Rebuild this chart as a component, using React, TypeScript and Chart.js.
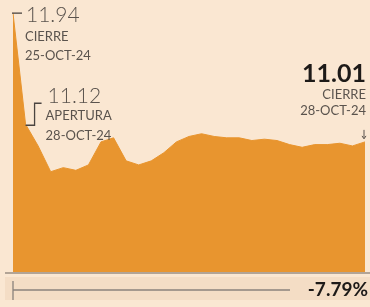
import React, { useEffect, useRef } from "react";
import { Chart, registerables } from "chart.js";

Chart.register(...registerables);

const labels = [
  "t0","t1","t2","t3","t4","t5","t6","t7","t8","t9",
  "t10","t11","t12","t13","t14","t15","t16","t17","t18","t19",
  "t20","t21","t22","t23","t24","t25","t26","t27","t28",
];
const prices = [
  11.94, 11.12, 10.96, 10.77, 10.8, 10.78, 10.82, 10.99, 11.02, 10.85,
  10.82, 10.85, 10.91, 10.99, 11.03, 11.05, 11.03, 11.02, 11.02, 11.0,
  11.01, 11.0, 10.97, 10.95, 10.97, 10.97, 10.98, 10.96, 10.99,
];
const yMin = 10.03;
const yMax = 12.0;

const firstValue = "11.94";
const firstLabel = ["CIERRE", "25-OCT-24"];
const openValue = "11.12";
const openLabel = ["APERTURA", "28-OCT-24"];
const lastValue = "11.01";
const lastLabel = ["CIERRE", "28-OCT-24"];
const changeText = "-7.79%";

const FONT = "Lato, 'Open Sans', sans-serif";

const decor = {
  id: "decor",
  beforeDraw(chart: any) {
    const { ctx, chartArea } = chart;
    ctx.save();
    ctx.fillStyle = "#F4DDC5";
    ctx.fillRect(5, chartArea.bottom + 5, 365, 23);
    ctx.restore();
  },
  afterDraw(chart: any) {
    const { ctx, chartArea } = chart;
    const xs = chart.scales.x;
    const ys = chart.scales.y;
    ctx.save();
    // baseline
    ctx.strokeStyle = "#6b625a";
    ctx.lineWidth = 1.2;
    ctx.beginPath();
    ctx.moveTo(5, chartArea.bottom + 1);
    ctx.lineTo(370, chartArea.bottom + 1);
    ctx.stroke();
    // bottom line & tick
    ctx.strokeStyle = "#8a837c";
    ctx.lineWidth = 1.3;
    ctx.beginPath();
    ctx.moveTo(13, chartArea.bottom + 18);
    ctx.lineTo(290, chartArea.bottom + 18);
    ctx.moveTo(13, chartArea.bottom + 9);
    ctx.lineTo(13, chartArea.bottom + 28);
    ctx.stroke();

    ctx.fillStyle = "#1d1a18";
    ctx.font = `bold 19px ${FONT}`;
    ctx.textAlign = "right";
    ctx.textBaseline = "middle";
    ctx.fillText(changeText, 368, chartArea.bottom + 18);

    // first point annotation
    const x0 = xs.getPixelForValue(0);
    const y0 = ys.getPixelForValue(prices[0]);
    ctx.strokeStyle = "#4a4440";
    ctx.lineWidth = 1.3;
    ctx.beginPath();
    ctx.moveTo(x0 - 1, y0);
    ctx.lineTo(x0 + 9, y0);
    ctx.stroke();
    ctx.fillStyle = "#5a534d";
    ctx.textAlign = "left";
    ctx.font = `300 21px ${FONT}`;
    ctx.fillText(firstValue, x0 + 13, y0 + 2);
    ctx.font = `13px ${FONT}`;
    ctx.fillText(firstLabel[0], x0 + 12, y0 + 24);
    ctx.fillText(firstLabel[1], x0 + 12, y0 + 43);

    // open annotation
    const x1 = xs.getPixelForValue(1);
    const y1 = ys.getPixelForValue(prices[1]);
    ctx.beginPath();
    ctx.moveTo(x1, y1 + 1);
    ctx.lineTo(x1 + 9, y1 + 1);
    ctx.lineTo(x1 + 9, y1 - 21);
    ctx.lineTo(x1 + 16, y1 - 21);
    ctx.stroke();
    ctx.font = `300 21px ${FONT}`;
    ctx.fillText(openValue, x1 + 22, y1 - 28);
    ctx.font = `13px ${FONT}`;
    ctx.fillText(openLabel[0], x1 + 20, y1 - 8);
    ctx.fillText(openLabel[1], x1 + 20, y1 + 12);

    // last annotation
    const xn = xs.getPixelForValue(prices.length - 1);
    const yn = ys.getPixelForValue(prices[prices.length - 1]);
    ctx.textAlign = "right";
    ctx.fillStyle = "#1d1a18";
    ctx.font = `bold 25px ${FONT}`;
    ctx.fillText(lastValue, 366, yn - 68);
    ctx.fillStyle = "#5a534d";
    ctx.font = `13px ${FONT}`;
    ctx.fillText(lastLabel[0], 366, yn - 47);
    ctx.fillText(lastLabel[1], 366, yn - 31);
    ctx.strokeStyle = "#5a534d";
    ctx.lineWidth = 1;
    ctx.beginPath();
    ctx.moveTo(xn - 1, yn - 12);
    ctx.lineTo(xn - 1, yn - 4);
    ctx.moveTo(xn - 3, yn - 6);
    ctx.lineTo(xn - 1, yn - 3);
    ctx.lineTo(xn + 1, yn - 6);
    ctx.stroke();
    ctx.restore();
  },
};

export default function App() {
  const ref = useRef<HTMLCanvasElement | null>(null);
  useEffect(() => {
    if (!ref.current) return;
    const chart = new Chart(ref.current, {
      type: "line",
      data: {
        labels,
        datasets: [
          {
            data: prices,
            fill: "start",
            backgroundColor: "#E8952F",
            borderColor: "#E8952F",
            borderWidth: 1,
            pointRadius: 0,
            tension: 0,
          },
        ],
      },
      options: {
        animation: false,
        responsive: false,
        maintainAspectRatio: false,
        layout: { padding: { left: 13, right: 5, top: 5, bottom: 35 } },
        plugins: { legend: { display: false }, tooltip: { enabled: false } },
        scales: {
          x: { display: false, offset: false },
          y: { display: false, min: yMin, max: yMax },
        },
      },
      plugins: [decor],
    });
    return () => chart.destroy();
  }, []);
  return (
    <div
      style={{
        position: "absolute",
        left: 0,
        top: 0,
        width: 370,
        height: 307,
        background: "#FAE7D2",
      }}
    >
      <canvas ref={ref} width={370} height={307} style={{ display: "block" }} />
    </div>
  );
}
